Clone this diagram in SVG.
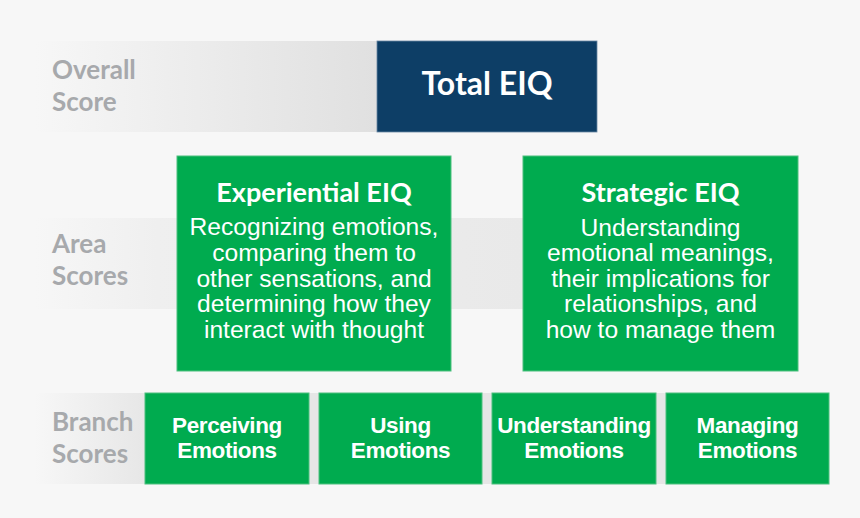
<svg xmlns="http://www.w3.org/2000/svg" width="860" height="518" viewBox="0 0 860 518">
<defs>
<linearGradient id="g1" gradientUnits="userSpaceOnUse" x1="35" y1="0" x2="377" y2="0">
<stop offset="0" stop-color="#f7f7f7"/><stop offset="0.3" stop-color="#f0f0f0"/><stop offset="1" stop-color="#e0e0e0"/>
</linearGradient>
<linearGradient id="g2" gradientUnits="userSpaceOnUse" x1="35" y1="0" x2="523" y2="0">
<stop offset="0" stop-color="#f7f7f7"/><stop offset="0.25" stop-color="#efefef"/><stop offset="1" stop-color="#e9e9e9"/>
</linearGradient>
<linearGradient id="g3" gradientUnits="userSpaceOnUse" x1="35" y1="0" x2="150" y2="0">
<stop offset="0" stop-color="#f7f7f7"/><stop offset="1" stop-color="#e6e6e6"/>
</linearGradient>
<style>
.lbl{font-family:Lato,"Noto Sans",sans-serif;font-weight:700;font-size:26px;fill:#a7a9ac}
.green{fill:#00ab4f;stroke:#4cc07f;stroke-width:1}
.head{font-family:Lato,"Noto Sans",sans-serif;font-weight:700;font-size:27px;fill:#fff;text-anchor:middle}
.total{font-size:32px}
.body{font-family:"Liberation Sans",Arial,sans-serif;font-size:24.6px;fill:#fff;text-anchor:middle}
.br{font-family:"Liberation Sans",Arial,sans-serif;font-weight:700;font-size:22.5px;letter-spacing:-0.4px;fill:#fff;text-anchor:middle}
</style>
</defs>
<rect x="0" y="0" width="860" height="518" fill="#f7f7f7"/>
<g id="bands">
<rect x="35" y="41" width="342" height="91" fill="url(#g1)"/>
<rect x="35" y="218" width="488" height="91" fill="url(#g2)"/>
<rect x="35" y="393" width="794" height="91" fill="url(#g3)"/>
</g>
<g id="labels">
<text class="lbl" x="52" y="79">Overall</text>
<text class="lbl" x="52" y="111">Score</text>
<text class="lbl" x="52" y="253">Area</text>
<text class="lbl" x="52" y="285">Scores</text>
<text class="lbl" x="52" y="431">Branch</text>
<text class="lbl" x="52" y="463">Scores</text>
</g>
<g id="connectors"></g>
<g id="total">
<rect x="377" y="41" width="220" height="91" fill="#0d3e66" stroke="#6a87a3" stroke-width="0.8"/>
<text class="head total" x="487" y="95">Total EIQ</text>
</g>
<g id="experiential">
<rect class="green" x="177" y="156" width="274" height="215"/>
<text class="head" x="314" y="202">Experiential EIQ</text>
<text class="body" x="314" y="235">Recognizing emotions,</text>
<text class="body" x="314" y="261">comparing them to</text>
<text class="body" x="314" y="287">other sensations, and</text>
<text class="body" x="314" y="312">determining how they</text>
<text class="body" x="314" y="338">interact with thought</text>
</g>
<g id="strategic">
<rect class="green" x="523" y="156" width="275" height="215"/>
<text class="head" x="660.5" y="202">Strategic EIQ</text>
<text class="body" x="660.5" y="236">Understanding</text>
<text class="body" x="660.5" y="261">emotional meanings,</text>
<text class="body" x="660.5" y="287">their implications for</text>
<text class="body" x="660.5" y="312">relationships, and</text>
<text class="body" x="660.5" y="338">how to manage them</text>
</g>
<g id="perceiving">
<rect class="green" x="145" y="393" width="164" height="91"/>
<text class="br" x="227" y="433">Perceiving</text>
<text class="br" x="227" y="458">Emotions</text>
</g>
<g id="using">
<rect class="green" x="319" y="393" width="163" height="91"/>
<text class="br" x="400.5" y="433">Using</text>
<text class="br" x="400.5" y="458">Emotions</text>
</g>
<g id="understanding">
<rect class="green" x="492" y="393" width="164" height="91"/>
<text class="br" x="574" y="433">Understanding</text>
<text class="br" x="574" y="458">Emotions</text>
</g>
<g id="managing">
<rect class="green" x="666" y="393" width="163" height="91"/>
<text class="br" x="747.5" y="433">Managing</text>
<text class="br" x="747.5" y="458">Emotions</text>
</g>
</svg>
